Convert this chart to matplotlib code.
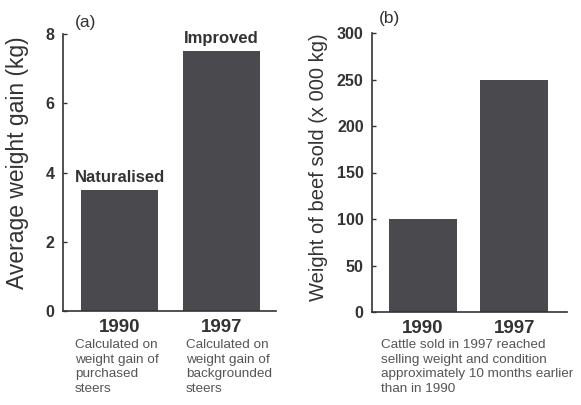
import matplotlib
matplotlib.use("Agg")
import matplotlib.pyplot as plt

plt.rcParams['font.family'] = ['Liberation Sans', 'DejaVu Sans']

# Data
years = ["1990", "1997"]
weight_gain = [3.5, 7.5]            # kg
beef_sold = [100, 250]              # x 000 kg
bar_labels_a = ["Naturalised", "Improved"]
notes_a = ["Calculated on\nweight gain of\npurchased\nsteers",
           "Calculated on\nweight gain of\nbackgrounded\nsteers"]
note_b = "Cattle sold in 1997 reached\nselling weight and condition\napproximately 10 months earlier\nthan in 1990"
yticks_a = [0, 2, 4, 6, 8]
yticks_b = [0, 50, 100, 150, 200, 250, 300]

W, H = 581, 405
fig = plt.figure(figsize=(W / 100, H / 100), dpi=100)
fig.patch.set_facecolor("white")

bar_color = "#4a4a4e"
txt = "#333333"

def px(x, y):
    return x / W, 1 - y / H

ax1 = fig.add_axes([63 / W, (H - 311) / H, 213 / W, 277 / H])
ax2 = fig.add_axes([372 / W, (H - 312) / H, 195 / W, 279 / H])

pos = [0, 1]
ax1.bar(pos, weight_gain, width=0.75, color=bar_color)
ax1.set_xlim(-0.554, 1.534)
ax1.set_ylim(0, 8)
ax1.set_yticks(yticks_a)
for p, v, lab in zip(pos, weight_gain, bar_labels_a):
    ax1.text(p, v + 0.15, lab, ha="center", va="bottom", fontsize=12,
             fontweight="bold", color=txt)

ax2.bar(pos, beef_sold, width=0.75, color=bar_color)
ax2.set_xlim(-0.56, 1.58)
ax2.set_ylim(0, 300)
ax2.set_yticks(yticks_b)

for ax in (ax1, ax2):
    ax.set_xticks(pos)
    ax.set_xticklabels(years, fontsize=13.5, fontweight="bold", color=txt)
    ax.tick_params(axis="x", length=0, pad=6)
    ax.tick_params(axis="y", direction="in", length=3, width=1, color=txt,
                   labelsize=11.5, labelcolor=txt, pad=6)
    for lab in ax.get_yticklabels():
        lab.set_fontweight("bold")
    ax.spines["top"].set_visible(False)
    ax.spines["right"].set_visible(False)
    for s in ("left", "bottom"):
        ax.spines[s].set_color(txt)
        ax.spines[s].set_linewidth(1.2)
    ax.set_facecolor("white")

# Y labels
fig.text(*px(18, 163), "Average weight gain (kg)", rotation=90, ha="center",
         va="center", fontsize=16.5, color=txt)
fig.text(*px(318, 167), "Weight of beef sold (x 000 kg)", rotation=90,
         ha="center", va="center", fontsize=14.5, color=txt)

# Panel letters
fig.text(*px(86, 22), "(a)", ha="center", va="center", fontsize=12.5, color=txt)
fig.text(*px(390, 18), "(b)", ha="center", va="center", fontsize=12.5, color=txt)

# Notes
note_kw = dict(ha="left", va="top", fontsize=9.7, color="#555555", linespacing=1.28)
fig.text(*px(75, 339), notes_a[0], **note_kw)
fig.text(*px(186, 339), notes_a[1], **note_kw)
fig.text(*px(381, 339), note_b, **note_kw)

fig.savefig("out.png", dpi=100, facecolor="white")
